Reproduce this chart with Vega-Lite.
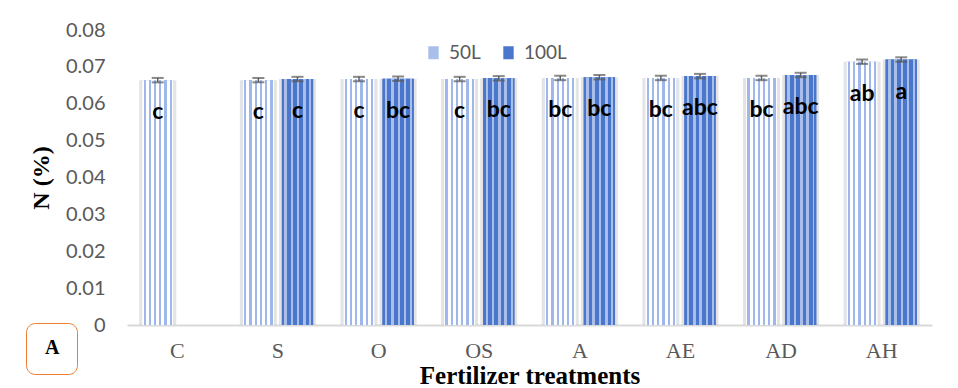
{
  "$schema": "https://vega.github.io/schema/vega-lite/v6.json",
  "autosize": "none",
  "width": 805,
  "height": 295,
  "padding": {"left": 127, "top": 30, "right": 26, "bottom": 63},
  "background": "white",
  "config": {"view": {"stroke": null}},
  "data": {
    "values": [
      {"treatment": "C", "series": "50L", "n": 0.0664, "err": 0.0006, "letter": "c", "panel": "A"},
      {"treatment": "S", "series": "50L", "n": 0.0664, "err": 0.0006, "letter": "c", "panel": "A"},
      {"treatment": "S", "series": "100L", "n": 0.0667, "err": 0.0006, "letter": "c", "panel": "A"},
      {"treatment": "O", "series": "50L", "n": 0.0667, "err": 0.0006, "letter": "c", "panel": "A"},
      {"treatment": "O", "series": "100L", "n": 0.0668, "err": 0.0006, "letter": "bc", "panel": "A"},
      {"treatment": "OS", "series": "50L", "n": 0.0667, "err": 0.0006, "letter": "c", "panel": "A"},
      {"treatment": "OS", "series": "100L", "n": 0.0669, "err": 0.0006, "letter": "bc", "panel": "A"},
      {"treatment": "A", "series": "50L", "n": 0.0670, "err": 0.0006, "letter": "bc", "panel": "A"},
      {"treatment": "A", "series": "100L", "n": 0.0672, "err": 0.0006, "letter": "bc", "panel": "A"},
      {"treatment": "AE", "series": "50L", "n": 0.0670, "err": 0.0006, "letter": "bc", "panel": "A"},
      {"treatment": "AE", "series": "100L", "n": 0.0675, "err": 0.0006, "letter": "abc", "panel": "A"},
      {"treatment": "AD", "series": "50L", "n": 0.0670, "err": 0.0006, "letter": "bc", "panel": "A"},
      {"treatment": "AD", "series": "100L", "n": 0.0678, "err": 0.0006, "letter": "abc", "panel": "A"},
      {"treatment": "AH", "series": "50L", "n": 0.0714, "err": 0.0006, "letter": "ab", "panel": "A"},
      {"treatment": "AH", "series": "100L", "n": 0.0720, "err": 0.0006, "letter": "a", "panel": "A"}
    ]
  },
  "encoding": {
    "x": {
      "field": "treatment",
      "type": "nominal",
      "sort": ["C", "S", "O", "OS", "A", "AE", "AD", "AH"],
      "scale": {"paddingInner": 0.3, "paddingOuter": 0.15},
      "axis": {
        "title": "Fertilizer treatments",
        "titleFont": "Liberation Serif",
        "titleFontSize": 25,
        "titleFontWeight": "bold",
        "titleColor": "#000000",
        "titleBaseline": "alphabetic",
        "titleY": 58,
        "labelFont": "Liberation Serif",
        "labelFontSize": 22,
        "labelColor": "#595959",
        "labelAngle": 0,
        "labelPadding": 15,
        "ticks": false,
        "domainColor": "#d9d9d9",
        "domainWidth": 2
      }
    },
    "xOffset": {
      "field": "series",
      "type": "nominal",
      "sort": ["50L", "100L"],
      "scale": {"domain": ["50L", "100L"], "paddingInner": 0.2, "paddingOuter": 0}
    },
    "y": {
      "field": "n",
      "type": "quantitative",
      "scale": {"domain": [0, 0.08]},
      "axis": {
        "title": "N (%)",
        "titleFont": "Liberation Serif",
        "titleFontSize": 24,
        "titleFontWeight": "bold",
        "titleColor": "#000000",
        "titlePadding": 12,
        "values": [0, 0.01, 0.02, 0.03, 0.04, 0.05, 0.06, 0.07, 0.08],
        "labelExpr": "datum.value == 0 ? '0' : format(datum.value, '.2f')",
        "labelOverlap": false,
        "labelFont": "Lato",
        "labelFontSize": 20,
        "labelColor": "#595959",
        "labelPadding": 22,
        "ticks": false,
        "domain": false,
        "grid": false
      }
    }
  },
  "layer": [
    {
      "mark": {"type": "bar", "size": 37, "color": "#a6a6a6", "opacity": 0.3},
      "encoding": {}
    },
    {
      "mark": {"type": "bar"},
      "encoding": {
        "fill": {
          "field": "series",
          "type": "nominal",
          "scale": {"domain": ["50L", "100L"], "range": ["#a9bfea", "#4a77cc"]},
          "legend": {
            "orient": "none",
            "legendX": 297,
            "legendY": 13,
            "direction": "horizontal",
            "title": null,
            "symbolType": "M-0.8,-1H0.8V1H-0.8Z",
            "symbolSize": 169,
            "symbolStrokeWidth": 0,
            "labelFont": "Lato",
            "labelFontSize": 19,
            "labelColor": "#595959",
            "labelOffset": 6,
            "columnPadding": 18
          }
        }
      }
    },
    {
      "transform": [{"filter": "datum.series === '50L'"}],
      "mark": {
        "type": "bar",
        "fill": {"gradient": "linear", "x1": 0, "y1": 0, "x2": 1, "y2": 0, "stops": [
          {"offset": 0, "color": "#ffffff"}, {"offset": 0.048, "color": "#ffffff"},
          {"offset": 0.048, "color": "#9fb7ea"}, {"offset": 0.118, "color": "#9fb7ea"},
          {"offset": 0.118, "color": "#ffffff"}, {"offset": 0.215, "color": "#ffffff"},
          {"offset": 0.215, "color": "#9fb7ea"}, {"offset": 0.285, "color": "#9fb7ea"},
          {"offset": 0.285, "color": "#ffffff"}, {"offset": 0.382, "color": "#ffffff"},
          {"offset": 0.382, "color": "#9fb7ea"}, {"offset": 0.452, "color": "#9fb7ea"},
          {"offset": 0.452, "color": "#ffffff"}, {"offset": 0.548, "color": "#ffffff"},
          {"offset": 0.548, "color": "#9fb7ea"}, {"offset": 0.618, "color": "#9fb7ea"},
          {"offset": 0.618, "color": "#ffffff"}, {"offset": 0.715, "color": "#ffffff"},
          {"offset": 0.715, "color": "#9fb7ea"}, {"offset": 0.785, "color": "#9fb7ea"},
          {"offset": 0.785, "color": "#ffffff"}, {"offset": 0.882, "color": "#ffffff"},
          {"offset": 0.882, "color": "#9fb7ea"}, {"offset": 0.952, "color": "#9fb7ea"},
          {"offset": 0.952, "color": "#ffffff"}, {"offset": 1, "color": "#ffffff"}
        ]}
      },
      "encoding": {}
    },
    {
      "transform": [{"filter": "datum.series === '100L'"}],
      "mark": {
        "type": "bar",
        "fill": {"gradient": "linear", "x1": 0, "y1": 0, "x2": 1, "y2": 0, "stops": [
          {"offset": 0, "color": "#4a77cc"}, {"offset": 0.08, "color": "#4a77cc"},
          {"offset": 0.08, "color": "#a9bfea"}, {"offset": 0.16, "color": "#a9bfea"},
          {"offset": 0.16, "color": "#4a77cc"}, {"offset": 0.28, "color": "#4a77cc"},
          {"offset": 0.28, "color": "#a9bfea"}, {"offset": 0.36, "color": "#a9bfea"},
          {"offset": 0.36, "color": "#4a77cc"}, {"offset": 0.48, "color": "#4a77cc"},
          {"offset": 0.48, "color": "#a9bfea"}, {"offset": 0.56, "color": "#a9bfea"},
          {"offset": 0.56, "color": "#4a77cc"}, {"offset": 0.68, "color": "#4a77cc"},
          {"offset": 0.68, "color": "#a9bfea"}, {"offset": 0.76, "color": "#a9bfea"},
          {"offset": 0.76, "color": "#4a77cc"}, {"offset": 0.88, "color": "#4a77cc"},
          {"offset": 0.88, "color": "#a9bfea"}, {"offset": 0.94, "color": "#a9bfea"},
          {"offset": 0.94, "color": "#4a77cc"}, {"offset": 1, "color": "#4a77cc"}
        ]}
      },
      "encoding": {}
    },
    {
      "mark": {"type": "errorbar", "color": "#595959", "thickness": 1.5, "ticks": {"size": 12, "thickness": 2}},
      "encoding": {
        "yError": {"field": "err"}
      }
    },
    {
      "mark": {"type": "text", "font": "Lato", "fontSize": 23, "fontWeight": "bold", "color": "#000000", "baseline": "middle", "dy": 32},
      "encoding": {
        "text": {"field": "letter"}
      }
    },
    {
      "mark": {"type": "text", "fontSize": 1, "color": "#ffffff"},
      "encoding": {
        "text": {"field": "panel"},
        "opacity": {
          "field": "panel",
          "type": "nominal",
          "scale": {"range": [0]},
          "legend": {
            "orient": "none",
            "legendX": -101,
            "legendY": 293,
            "title": null,
            "symbolSize": 961,
            "symbolType": "square",
            "symbolFillColor": "#ffffff",
            "symbolStrokeColor": "#ffffff",
            "labelFont": "Liberation Serif",
            "labelFontSize": 20,
            "labelFontWeight": "bold",
            "labelColor": "#000000",
            "labelOffset": -22,
            "padding": 8,
            "strokeColor": "#ed7d31",
            "cornerRadius": 9
          }
        }
      }
    }
  ]
}
